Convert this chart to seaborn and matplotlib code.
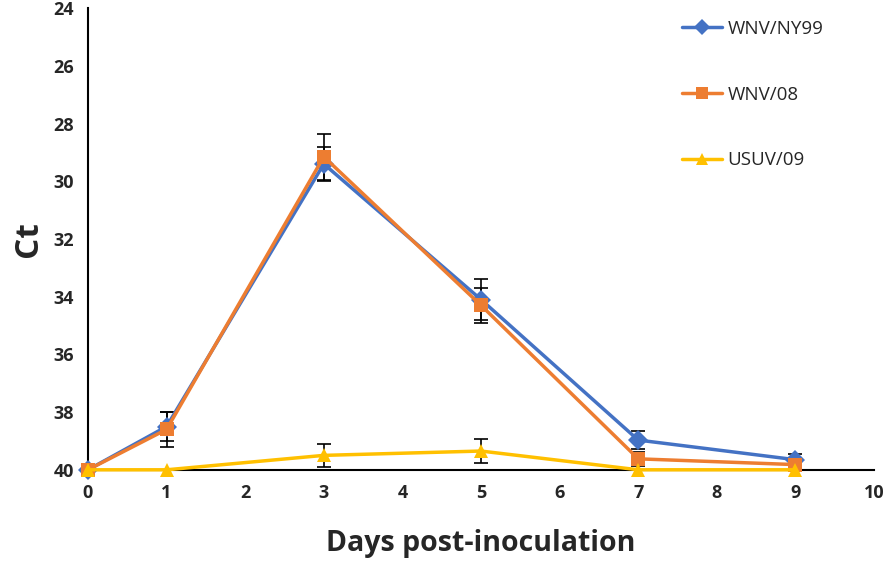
import pandas as pd
import matplotlib.pyplot as plt
import seaborn as sns

days = [0, 1, 3, 5, 7, 9]
strains = ['WNV/NY99', 'WNV/08', 'USUV/09']
ny99_ct = [40.0, 38.5, 29.4, 34.1, 38.97, 39.65]
ny99_err = [0.0, 0.5, 0.6, 0.7, 0.3, 0.2]
wnv08_ct = [40.0, 38.6, 29.15, 34.3, 39.62, 39.82]
wnv08_err = [0.0, 0.6, 0.8, 0.6, 0.25, 0.1]
usuv_ct = [40.0, 40.0, 39.5, 39.35, 40.0, 40.0]
usuv_err = [0.0, 0.0, 0.4, 0.42, 0.0, 0.0]

colors = ['#4472C4', '#ED7D31', '#FFC000']
markers = ['D', 's', '^']

rows = []
for name, ct, err in zip(strains, [ny99_ct, wnv08_ct, usuv_ct], [ny99_err, wnv08_err, usuv_err]):
    for d, c, e in zip(days, ct, err):
        rows.append({'Day': d, 'Ct': c, 'SD': e, 'Strain': name})
df = pd.DataFrame(rows)

sns.set_style('white')
plt.rcParams['font.family'] = ['Open Sans', 'DejaVu Sans']

fig = plt.figure(figsize=(8.86, 5.8), dpi=100)
ax = fig.add_axes([0.0993, 0.19, 0.8872, 0.796])

# error bars first so lines sit on top
for name, col in zip(strains, colors):
    sub = df[df['Strain'] == name]
    ax.errorbar(sub['Day'], sub['Ct'], yerr=sub['SD'], fmt='none', ecolor='black',
                elinewidth=1.2, capsize=5, capthick=1.2, zorder=2)

sns.lineplot(data=df, x='Day', y='Ct', hue='Strain', style='Strain',
             palette=colors, markers=markers, dashes=False, linewidth=2.5,
             markersize=10, markeredgewidth=0, ax=ax, zorder=3)
for ln in ax.lines:
    ln.set_clip_on(False)

ax.set_xlim(0, 10)
ax.set_ylim(40, 24)
ax.set_xticks(range(0, 11))
ax.set_yticks(range(24, 41, 2))
ax.tick_params(axis='both', direction='out', length=6, width=1.5, color='black',
               labelsize=13, pad=4)
for lab in ax.get_xticklabels() + ax.get_yticklabels():
    lab.set_fontweight('bold')
for s in ['top', 'right']:
    ax.spines[s].set_visible(False)
for s in ['left', 'bottom']:
    ax.spines[s].set_color('black')
    ax.spines[s].set_linewidth(1.5)

ax.set_xlabel('Days post-inoculation', fontsize=20.5, fontweight='bold', labelpad=20)
ax.set_ylabel('Ct', fontsize=24, fontweight='bold', labelpad=6)

leg = ax.legend(title=None, loc='upper left', bbox_to_anchor=(0.751, 0.995),
                bbox_transform=fig.transFigure, frameon=False,
                fontsize=13.5, labelspacing=2.55, handlelength=2.1, handletextpad=0.3)
for h in leg.legend_handles:
    h.set_linewidth(2.5)
    h.set_markersize(8)

fig.savefig('out.png', dpi=100)
